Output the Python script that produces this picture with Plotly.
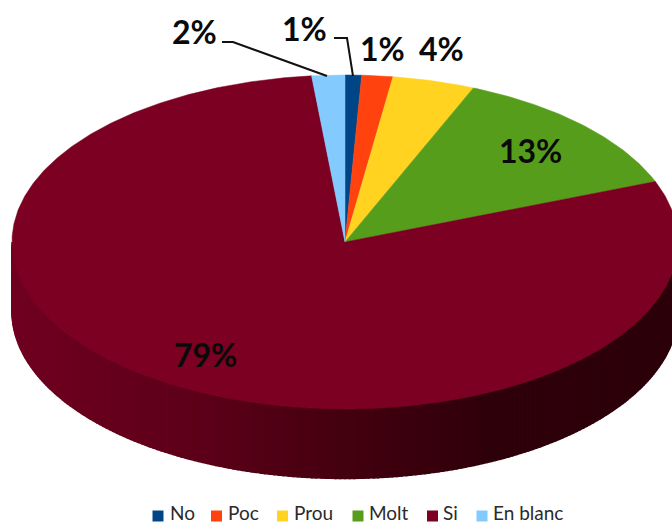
import numpy as np
import plotly.graph_objects as go

categories = ["No", "Poc", "Prou", "Molt", "Si", "En blanc"]
values = [0.8, 1.5, 4.0, 12.8, 79.3, 1.6]
labels = ["1%", "1%", "4%", "13%", "79%", "2%"]
colors = ["#004586", "#ff420e", "#ffd320", "#579d1c", "#7b0021", "#83caff"]

W, H = 672, 524
CX, CY, RX, RY, DEPTH = 345, 242, 333, 167, 69.5

label_pos = [(304, 28), (382, 48), (441, 48), (530, 150), (205, 354), (194, 31)]
leaders = [[(334, 38), (347, 38), (353, 76)], [(222, 42), (233, 42), (327, 76)]]
legend_x = [158, 216.5, 282.5, 358, 432.5, 482]
legend_text_x = [169, 227, 293, 368, 442, 492]
SWATCH_Y = 516
LEGEND_TEXT_Y = 512.4

# side-wall shading stops (pixel x -> red, blue channel)
shade_x = [12, 200, 345, 490, 678]
shade_r = [112, 92, 68, 46, 44]
shade_b = [32, 24, 15, 10, 10]


def ell(t):
    return CX + RX * np.sin(t), CY - RY * np.cos(t)


fig = go.Figure()

# side wall: only the front half of the rim is visible, shaded from left to right
n_strips = 220
edges = np.linspace(-np.pi / 2, np.pi / 2, n_strips + 1)
for a, b in zip(edges[:-1], edges[1:]):
    ts = np.linspace(a, b, 3)
    x0 = CX + RX * np.sin(-ts)
    y0 = CY + RY * np.cos(ts)
    xs = np.concatenate([x0, x0[::-1], x0[:1]])
    ys = np.concatenate([y0, y0[::-1] + DEPTH, y0[:1]])
    r = np.interp(x0.mean(), shade_x, shade_r)
    bl = np.interp(x0.mean(), shade_x, shade_b)
    col = f"rgb({r:.0f},0,{bl:.0f})"
    fig.add_trace(go.Scatter(x=xs, y=ys, mode="lines", fill="toself", fillcolor=col,
                             line=dict(color=col, width=1.5), hoverinfo="skip", showlegend=False))

# top face, wedges built from the values
start = 0.0
total = sum(values)
for name, v, col in zip(categories, values, colors):
    t0 = start / total * 2 * np.pi
    t1 = (start + v) / total * 2 * np.pi
    start += v
    ts = np.linspace(t0, t1, max(int(v * 6), 6))
    ex, ey = ell(ts)
    fig.add_trace(go.Scatter(x=np.concatenate([[CX], ex, [CX]]), y=np.concatenate([[CY], ey, [CY]]),
                             mode="lines", fill="toself", fillcolor=col, line=dict(color=col, width=0.5),
                             name=name, text=f"{name}: {v}%", hoverinfo="text", showlegend=False))

# legend row: swatches
for name, col, lx in zip(categories, colors, legend_x):
    fig.add_trace(go.Scatter(x=[lx], y=[SWATCH_Y], mode="markers", name=name,
                             marker=dict(symbol="square", size=11, color=col),
                             cliponaxis=False, hoverinfo="skip", showlegend=False))

annotations = [dict(x=p[0], y=p[1], text=t, showarrow=False, xref="x", yref="y",
                    font=dict(family="Lato", size=32, color="#0a0a0a", weight="bold"))
               for t, p in zip(labels, label_pos)]
annotations += [dict(x=lx, y=LEGEND_TEXT_Y, text=name, showarrow=False, xref="x", yref="y",
                     xanchor="left", yanchor="middle", borderpad=0,
                     font=dict(family="Lato", size=19, color="#2a2a2a"))
                for name, lx in zip(categories, legend_text_x)]
shapes = [dict(type="path", xref="x", yref="y",
               path="M" + " L".join(f"{x},{y}" for x, y in pts),
               line=dict(color="#111111", width=2))
          for pts in leaders]

fig.update_layout(
    width=W, height=H, autosize=False, margin=dict(l=0, r=0, t=0, b=0),
    paper_bgcolor="white", plot_bgcolor="white",
    xaxis=dict(range=[0, W], visible=False, fixedrange=True),
    yaxis=dict(range=[H, 0], visible=False, fixedrange=True),
    annotations=annotations, shapes=shapes,
    showlegend=False,
)

fig.write_html("out.html", config={"displayModeBar": False},
               post_script="document.body.style.margin='0';document.documentElement.style.overflow='hidden';")
